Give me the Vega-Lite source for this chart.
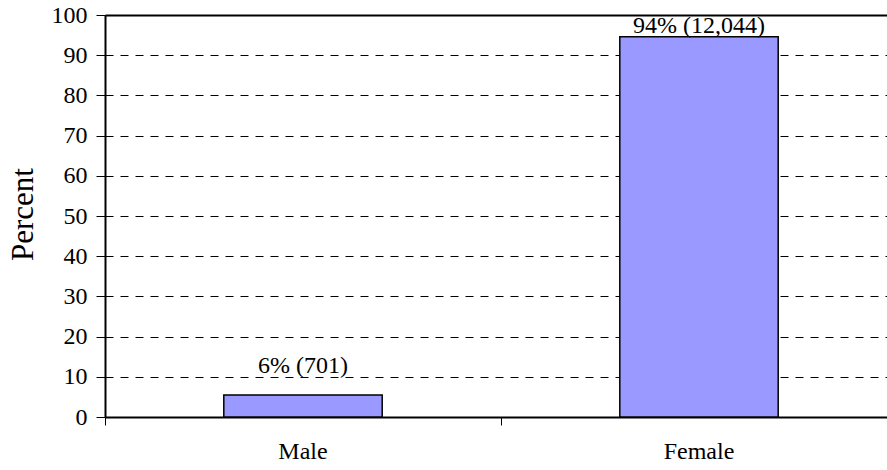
{
  "$schema": "https://vega.github.io/schema/vega-lite/v6.json",
  "autosize": {"type": "none"},
  "width": 792,
  "height": 402,
  "padding": {"left": 105, "top": 15, "right": -10, "bottom": 53},
  "background": "white",
  "config": {
    "view": {"stroke": null}
  },
  "data": {
    "values": [
      {"sex": "Male", "pct": 5.5, "label": "6% (701)"},
      {"sex": "Female", "pct": 94.6, "label": "94% (12,044)"}
    ]
  },
  "encoding": {
    "x": {
      "field": "sex",
      "type": "nominal",
      "sort": ["Male", "Female"],
      "scale": {"paddingInner": 0, "paddingOuter": 0},
      "axis": {
        "title": null,
        "labelAngle": 0,
        "labelFont": "Liberation Serif",
        "labelFontSize": 24,
        "labelColor": "black",
        "labelPadding": 14,
        "bandPosition": 0,
        "tickSize": 8,
        "tickColor": "black",
        "tickWidth": 1,
        "domainColor": "black",
        "domainWidth": 2,
        "grid": false
      }
    }
  },
  "layer": [
    {
      "mark": {"type": "bar", "width": {"band": 0.4}, "fill": "#9999FF", "stroke": "black", "strokeWidth": 1.5},
      "encoding": {
        "y": {
          "field": "pct",
          "type": "quantitative",
          "scale": {"domain": [0, 100], "nice": false},
          "axis": {
            "values": [0, 10, 20, 30, 40, 50, 60, 70, 80, 90, 100],
            "title": "Percent",
            "titleFont": "Liberation Serif",
            "titleFontSize": 31,
            "titleFontWeight": "normal",
            "titleColor": "black",
            "titleX": -73,
            "titleY": 199,
            "titleAngle": -90,
            "titleBaseline": "alphabetic",
            "titleAlign": "center",
            "labelFont": "Liberation Serif",
            "labelFontSize": 24,
            "labelColor": "black",
            "labelPadding": 9,
            "tickSize": 9,
            "tickColor": "black",
            "domainColor": "black",
            "domainWidth": 2,
            "grid": true,
            "gridColor": "black",
            "gridWidth": {"condition": {"test": "datum.value === 100", "value": 2}, "value": 1},
            "gridDash": {"condition": {"test": "datum.value === 100 || datum.value === 0", "value": []}, "value": [8, 7]},
            "gridOpacity": 1
          }
        }
      }
    },
    {
      "transform": [{"filter": "datum.sex === 'Male'"}],
      "mark": {"type": "text", "baseline": "alphabetic", "dy": -22, "fontSize": 24, "font": "Liberation Serif", "color": "black"},
      "encoding": {
        "y": {"field": "pct", "type": "quantitative"},
        "text": {"field": "label"}
      }
    },
    {
      "transform": [{"filter": "datum.sex === 'Female'"}],
      "mark": {"type": "text", "baseline": "alphabetic", "dy": -4, "fontSize": 24, "font": "Liberation Serif", "color": "black"},
      "encoding": {
        "y": {"field": "pct", "type": "quantitative"},
        "text": {"field": "label"}
      }
    }
  ]
}
